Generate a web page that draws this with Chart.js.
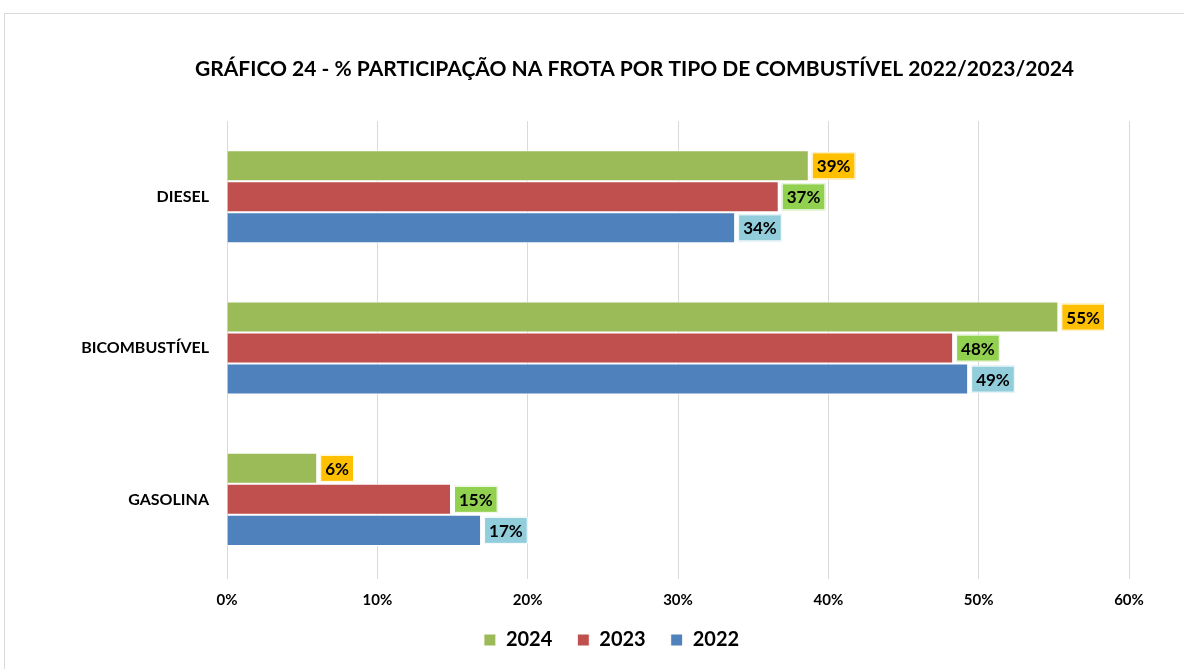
<!DOCTYPE html>
<html>
<head>
<meta charset="utf-8">
<script src="https://cdn.jsdelivr.net/npm/chart.js@4"></script>
<style>
  body { margin: 0; background: #fff; overflow: hidden; }
  #frame { position: absolute; left: 4px; top: 13px; width: 1300px; height: 700px; border: 1px solid #d9d9d9; }
  #chart { position: absolute; left: 0; top: 0; }
</style>
</head>
<body>
<div id="frame"></div>
<canvas id="chart" width="1184" height="669"></canvas>
<script>
// data
var categories = ['DIESEL', 'BICOMBUSTÍVEL', 'GASOLINA'];
var years = ['2024', '2023', '2022'];
var values2024 = [38.7, 55.3, 6.0];
var values2023 = [36.7, 48.3, 14.9];
var values2022 = [33.8, 49.3, 16.9];
var xTicks = [0, 10, 20, 30, 40, 50, 60];

var barColors = ['#9BBB59', '#C0504D', '#4F81BD'];
var labelColors = ['#FFC000', '#92D050', '#92CDDC'];
var FONT = 'Lato';

// draws the boxed % labels at the end of each bar
var boxLabels = {
  id: 'boxLabels',
  afterDatasetsDraw: function(chart) {
    var ctx = chart.ctx;
    ctx.save();
    ctx.font = 'bold 17px ' + FONT;
    ctx.textAlign = 'center';
    ctx.textBaseline = 'middle';
    chart.data.datasets.forEach(function(ds, di) {
      var meta = chart.getDatasetMeta(di);
      meta.data.forEach(function(bar, i) {
        var txt = Math.round(ds.data[i]) + '%';
        var w = ctx.measureText(txt).width + 10;
        var h = 27;
        var x = bar.x + 3, y = bar.y - h / 2;
        ctx.fillStyle = labelColors[di];
        ctx.fillRect(x, y, w, h);
        ctx.strokeStyle = '#fff';
        ctx.lineWidth = 1;
        ctx.strokeRect(x + 0.5, y + 0.5, w - 1, h - 1);
        ctx.fillStyle = '#000';
        ctx.fillText(txt, x + w / 2, bar.y + 1);
      });
    });
    ctx.restore();
  }
};

// title and legend sit right of the canvas centre in the original
var shiftBoxes = {
  id: 'shiftBoxes',
  afterLayout: function(chart) {
    chart.titleBlock.left += 70;
    chart.titleBlock.right += 70;
    chart.legend.left += 47;
    chart.legend.right += 47;
  }
};

var ctx = document.getElementById('chart').getContext('2d');
var chart = new Chart(ctx, {
  type: 'bar',
  data: {
    labels: categories,
    datasets: [
      { label: years[0], data: values2024, backgroundColor: barColors[0] },
      { label: years[1], data: values2023, backgroundColor: barColors[1] },
      { label: years[2], data: values2022, backgroundColor: barColors[2] }
    ]
  },
  options: {
    indexAxis: 'y',
    responsive: false,
    devicePixelRatio: 1,
    animation: false,
    datasets: {
      bar: { categoryPercentage: 0.615, barPercentage: 1.0, borderColor: '#fff', borderWidth: 1 }
    },
    layout: { padding: { left: 0, right: 55, top: 0, bottom: 9 } },
    scales: {
      x: {
        min: 0, max: 60,
        afterBuildTicks: function(s) { s.ticks = xTicks.map(function(v) { return { value: v }; }); },
        ticks: {
          callback: function(v) { return v + '%'; },
          color: '#000', padding: 12,
          font: { family: FONT, weight: 'bold', size: 15 }
        },
        grid: { color: '#d9d9d9', tickLength: 4 },
        border: { display: false },
        afterFit: function(s) { s.height = 30; }
      },
      y: {
        ticks: { color: '#000', padding: 18, font: { family: FONT, weight: 'bold', size: 16 } },
        grid: { display: false, drawTicks: false },
        border: { display: false },
        afterFit: function(s) { s.width = 227; }
      }
    },
    plugins: {
      title: {
        display: true,
        text: 'GRÁFICO 24 - % PARTICIPAÇÃO NA FROTA POR TIPO DE COMBUSTÍVEL 2022/2023/2024',
        color: '#000',
        font: { family: FONT, weight: 'bold', size: 21 },
        padding: { top: 57, bottom: 39 }
      },
      legend: {
        position: 'bottom',
        labels: {
          color: '#000', boxWidth: 12, boxHeight: 12, padding: 25,
          font: { family: FONT, weight: 'bold', size: 20 }
        }
      },
      tooltip: { enabled: false }
    }
  },
  plugins: [boxLabels, shiftBoxes]
});
</script>
</body>
</html>
